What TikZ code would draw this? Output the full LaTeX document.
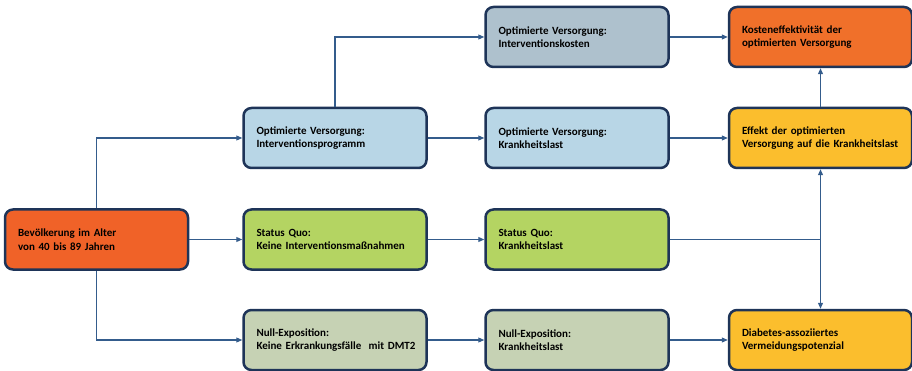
\documentclass[tikz,border=0pt]{standalone}
\usepackage{fontspec}
\setmainfont{Carlito}
\usetikzlibrary{arrows.meta}
\definecolor{rim}{RGB}{30,52,88}
\definecolor{link}{RGB}{52,92,140}
\definecolor{orangebox}{RGB}{240,98,40}
\definecolor{orangetop}{RGB}{240,112,42}
\definecolor{bluebox}{RGB}{184,214,230}
\definecolor{greybox}{RGB}{174,193,205}
\definecolor{greenbox}{RGB}{180,212,98}
\definecolor{olivebox}{RGB}{198,210,180}
\definecolor{yellowbox}{RGB}{251,190,45}
\begin{document}
\begin{tikzpicture}
[
    x=1pt, y=-1pt,
    box/.style={draw=rim, line width=2.5pt, rounded corners=8pt,
        text width=157pt, inner xsep=13pt, inner ysep=0pt,
        minimum height=60pt, align=left,
        font=\fontsize{11}{13.4}\selectfont\bfseries},
    conn/.style={draw=link, line width=1.1pt,
        -{Triangle[length=6pt,width=5pt]}},
]
\useasboundingbox (0,0) rectangle (912,371);
\node[box, fill=orangebox] (bev) at (96.5,239.5) {Bevölkerung im Alter\\von 40 bis 89 Jahren};
\node[box, fill=bluebox] (intprog) at (335,138) {Optimierte Versorgung:\\Interventionsprogramm};
\node[box, fill=greenbox] (sqint) at (335,239.5) {Status Quo:\\Keine Interventionsmaßnahmen};
\node[box, fill=olivebox] (nullint) at (335,340) {Null-Exposition:\\\mbox{Keine Erkrankungsfälle\ \ mit DMT2}};
\node[box, fill=greybox] (kosten) at (577,37) {Optimierte Versorgung:\\Interventionskosten};
\node[box, fill=bluebox] (krankopt) at (577,138) {Optimierte Versorgung:\\Krankheitslast};
\node[box, fill=greenbox] (sqkrank) at (577,239.5) {Status Quo:\\Krankheitslast};
\node[box, fill=olivebox] (nullkrank) at (577,340) {Null-Exposition:\\Krankheitslast};
\node[box, fill=orangetop] (kosteneff) at (820.5,37) {Kosteneffektivität der\\optimierten Versorgung};
\node[box, fill=yellowbox] (effekt) at (820.5,138) {Effekt der optimierten\\Versorgung auf die Krankheitslast};
\node[box, fill=yellowbox] (diab) at (820.5,340) {Diabetes-assoziiertes\\Vermeidungspotenzial};
\coordinate (junc) at (sqkrank.east -| effekt.south);
% links
\draw[conn] (bev.north) |- (intprog.west);
\draw[conn] (bev.east) -- (sqint.west);
\draw[conn] (bev.south) |- (nullint.west);
\draw[conn] (intprog.north) |- (kosten.west);
\draw[conn] (intprog.east) -- (krankopt.west);
\draw[conn] (sqint.east) -- (sqkrank.west);
\draw[conn] (nullint.east) -- (nullkrank.west);
\draw[conn] (kosten.east) -- (kosteneff.west);
\draw[conn] (krankopt.east) -- (effekt.west);
\draw[conn] (effekt.north) -- (kosteneff.south);
\draw[conn] (sqkrank.east) -- (junc) -- (effekt.south);
\draw[conn] (junc) -- (diab.north);
\draw[conn] (nullkrank.east) -- (diab.west);
\end{tikzpicture}
\end{document}
